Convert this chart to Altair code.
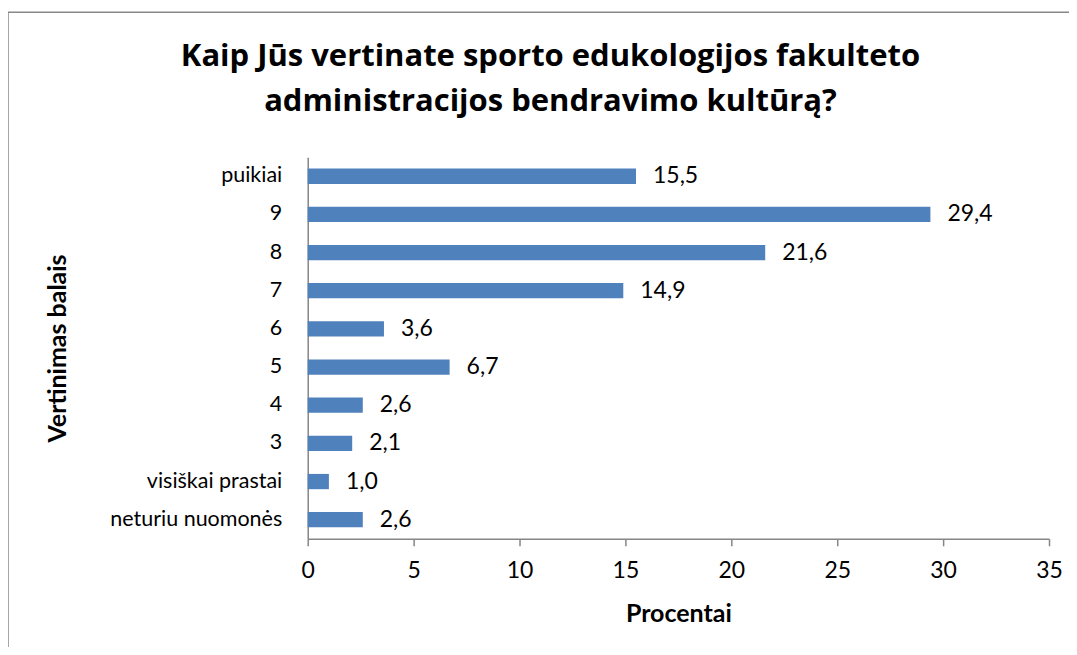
import altair as alt
import pandas as pd

categories = ["puikiai", "9", "8", "7", "6", "5", "4", "3", "visiškai prastai", "neturiu nuomonės"]
values = [15.5, 29.4, 21.6, 14.9, 3.6, 6.7, 2.6, 2.1, 1.0, 2.6]
x_ticks = [0, 5, 10, 15, 20, 25, 30, 35]
title_lines = ["Kaip Jūs vertinate sporto edukologijos fakulteto",
               "administracijos bendravimo kultūrą?"]
x_title = "Procentai"
y_title = "Vertinimas balais"

df = pd.DataFrame({"cat": categories, "val": values})
df["label"] = [f"{v:.1f}".replace(".", ",") for v in values]

W, H = 742, 382
FONT = "Lato"
AX = "#868686"

base = alt.Chart(df).encode(
    y=alt.Y("cat:N", sort=categories,
            scale=alt.Scale(paddingInner=0.6, paddingOuter=0.3),
            axis=alt.Axis(title=y_title, ticks=False, labelPadding=26, labelFontSize=21.5,
                          titleX=-250, titleY=H / 2, titleAngle=-90,
                          titleBaseline="middle", titleAlign="center")),
    x=alt.X("val:Q", scale=alt.Scale(domain=[0, 35], nice=False, zero=True),
            axis=alt.Axis(title=x_title, values=x_ticks, tickSize=7, labelPadding=14,
                          labelFontSize=23, labelFlush=False,
                          titleX=W / 2, titleY=83, titleBaseline="alphabetic",
                          titleAlign="center")),
)

bars = base.mark_bar(color="#4F81BD")
labels = base.mark_text(align="left", baseline="middle", dx=17, fontSize=23,
                        font=FONT, color="black").encode(text="label:N")

border_df = pd.DataFrame({"k": [0]})
left_border = alt.Chart(border_df).mark_rule(color="#888888", strokeWidth=1.5).encode(
    x=alt.value(-300), y=alt.value(-145), y2=alt.value(500))
top_border = alt.Chart(border_df).mark_rule(color="#888888", strokeWidth=1.5).encode(
    x=alt.value(-300), x2=alt.value(770), y=alt.value(-145))

chart = alt.layer(bars, labels, left_border, top_border).properties(
    width=W, height=H,
    title=alt.TitleParams(text=title_lines, font="Open Sans", fontSize=31, fontWeight="bold",
                          color="black", anchor="middle", lineHeight=45, dx=-128,
                          baseline="alphabetic", offset=0, dy=131),
    autosize=alt.AutoSizeParams(type="none"),
    padding={"left": 300, "top": 149, "right": 20, "bottom": 108},
).configure_view(stroke=None).configure_axis(
    domainColor=AX, domainWidth=1.5, tickColor=AX, tickWidth=1.5, grid=False,
    labelColor="black", labelFont=FONT, labelFontSize=22,
    titleFont=FONT, titleFontSize=25, titleFontWeight="bold", titleColor="black",
)

chart.save("out.html", embed_options={"renderer": "svg", "actions": False})
